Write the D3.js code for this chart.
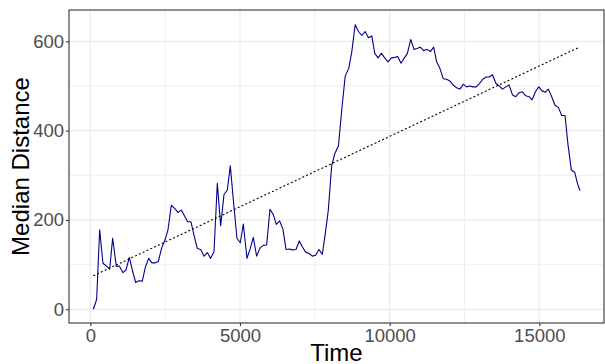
<!DOCTYPE html>
<html>
<head>
<meta charset="utf-8">
<script src="https://cdn.jsdelivr.net/npm/d3@7"></script>
<style>
  html, body { margin: 0; padding: 0; background: #ffffff; }
  svg { display: block; font-family: "Liberation Sans", Arial, sans-serif; }
</style>
</head>
<body>
<svg id="chart" width="605" height="364"></svg>
<script>
// Median distance over time
const time = [
  100, 212, 312, 423, 535, 646, 746, 869, 969, 1091, 1192, 1303, 1403, 1515, 1626, 1737,
  1837, 1949, 2060, 2172, 2272, 2383, 2494, 2595, 2706, 2817, 2929, 3040, 3140, 3252, 3363,
  3463, 3575, 3686, 3798, 3909, 4021, 4132, 4243, 4355, 4466, 4577, 4677, 4789, 4900, 5011,
  5111, 5234, 5334, 5445, 5557, 5668, 5780, 5891, 6002, 6113, 6214, 6325, 6436, 6537, 6648,
  6760, 6871, 6982, 7082, 7194, 7305, 7416, 7528, 7639, 7751, 7851, 7951, 8062, 8170, 8290,
  8405, 8515, 8636, 8736, 8848, 8959, 9070, 9181, 9292, 9403, 9503, 9614, 9725, 9836, 9948,
  10059, 10170, 10270, 10381, 10492, 10592, 10703, 10814, 10925, 11025, 11136, 11248, 11359,
  11470, 11570, 11681, 11792, 11903, 12014, 12125, 12236, 12348, 12459, 12570, 12670, 12781,
  12892, 13003, 13114, 13225, 13325, 13436, 13548, 13659, 13770, 13881, 13992, 14103, 14214,
  14325, 14436, 14548, 14659, 14759, 14870, 14981, 15092, 15203, 15303, 15414, 15525, 15636,
  15748, 15859, 15959, 16070, 16181, 16281, 16359
];
const medianDistance = [
  0, 22, 178, 103, 97, 90, 159, 96, 97, 82, 88, 116, 88, 60, 64, 63,
  94, 114, 104, 104, 107, 137, 155, 178, 233, 226, 217, 222, 210, 196, 196,
  166, 136, 134, 119, 127, 114, 129, 282, 187, 257, 267, 321, 237, 159, 149,
  191, 114, 134, 161, 119, 137, 143, 144, 224, 212, 190, 198, 179, 134, 135,
  133, 134, 153, 140, 128, 125, 119, 121, 134, 123, 170, 222, 321, 349, 366,
  450, 522, 540, 577, 637, 622, 613, 622, 608, 612, 573, 563, 573, 563, 554,
  563, 564, 566, 551, 563, 573, 604, 582, 584, 587, 579, 582, 577,
  587, 554, 539, 516, 515, 511, 502, 496, 493, 504, 498, 500, 498,
  498, 506, 515, 520, 520, 525, 506, 500, 493, 498, 502, 480, 476,
  485, 487, 478, 476, 469, 487, 498, 489, 486, 493, 476, 457, 452,
  434, 434, 368, 312, 307, 280, 266
];

// Linear trend endpoints
const trendTime = [100, 16340];
const trendValue = [75, 587];

const xTicks = [0, 5000, 10000, 15000];
const yTicks = [0, 200, 400, 600];
const xMinor = [2500, 7500, 12500];
const yMinor = [100, 300, 500];

const svg = d3.select("#chart");
const panel = { left: 69, right: 604, top: 10, bottom: 323 };

const x = d3.scaleLinear().domain([-712, 17161]).range([panel.left, panel.right]);
const y = d3.scaleLinear().domain([-30.7, 670.1]).range([panel.bottom, panel.top]);

const grid = svg.append("g");
// minor grid
grid.selectAll(".vminor").data(xMinor).join("line")
  .attr("x1", d => x(d)).attr("x2", d => x(d))
  .attr("y1", panel.top).attr("y2", panel.bottom)
  .attr("stroke", "#ebebeb").attr("stroke-width", 0.8);
grid.selectAll(".hminor").data(yMinor).join("line")
  .attr("y1", d => y(d)).attr("y2", d => y(d))
  .attr("x1", panel.left).attr("x2", panel.right)
  .attr("stroke", "#ebebeb").attr("stroke-width", 0.8);
// major grid
grid.selectAll(".vmajor").data(xTicks).join("line")
  .attr("x1", d => x(d)).attr("x2", d => x(d))
  .attr("y1", panel.top).attr("y2", panel.bottom)
  .attr("stroke", "#ebebeb").attr("stroke-width", 1.2);
grid.selectAll(".hmajor").data(yTicks).join("line")
  .attr("y1", d => y(d)).attr("y2", d => y(d))
  .attr("x1", panel.left).attr("x2", panel.right)
  .attr("stroke", "#ebebeb").attr("stroke-width", 1.2);

// series line
const pts = time.map((t, i) => [t, medianDistance[i]]);
svg.append("path")
  .datum(pts)
  .attr("fill", "none")
  .attr("stroke", "#00008B")
  .attr("stroke-width", 1.1)
  .attr("stroke-linejoin", "round")
  .attr("d", d3.line().x(d => x(d[0])).y(d => y(d[1])));

// trend line
const trend = trendTime.map((t, i) => [t, trendValue[i]]);
svg.append("path")
  .datum(trend)
  .attr("fill", "none")
  .attr("stroke", "#000000")
  .attr("stroke-width", 1.1)
  .attr("stroke-dasharray", "2,2.2")
  .attr("d", d3.line().x(d => x(d[0])).y(d => y(d[1])));

// panel border
svg.append("rect")
  .attr("x", panel.left).attr("y", panel.top)
  .attr("width", panel.right - panel.left).attr("height", panel.bottom - panel.top)
  .attr("fill", "none").attr("stroke", "#333333").attr("stroke-width", 1.1);

// axes
const xAxis = d3.axisBottom(x).tickValues(xTicks).tickSize(3).tickPadding(3).tickFormat(d3.format("d"));
const yAxis = d3.axisLeft(y).tickValues(yTicks).tickSize(3).tickPadding(2).tickFormat(d3.format("d"));

const gx = svg.append("g").attr("transform", `translate(0,${panel.bottom})`).call(xAxis);
const gy = svg.append("g").attr("transform", `translate(${panel.left},0)`).call(yAxis);
[gx, gy].forEach(g => {
  g.select(".domain").remove();
  g.selectAll(".tick line").attr("stroke", "#333333").attr("stroke-width", 1.1);
  g.selectAll(".tick text")
    .attr("fill", "#4d4d4d")
    .style("font-size", "18.5px")
    .style("font-family", "'Liberation Sans', Arial, sans-serif");
});

// axis titles
svg.append("text")
  .attr("x", (panel.left + panel.right) / 2)
  .attr("y", 361)
  .attr("text-anchor", "middle")
  .style("font-size", "24px")
  .attr("fill", "#000")
  .text("Time");

svg.append("text")
  .attr("transform", `translate(29,${(panel.top + panel.bottom) / 2}) rotate(-90)`)
  .attr("text-anchor", "middle")
  .style("font-size", "24px")
  .attr("fill", "#000")
  .text("Median Distance");
</script>
</body>
</html>
